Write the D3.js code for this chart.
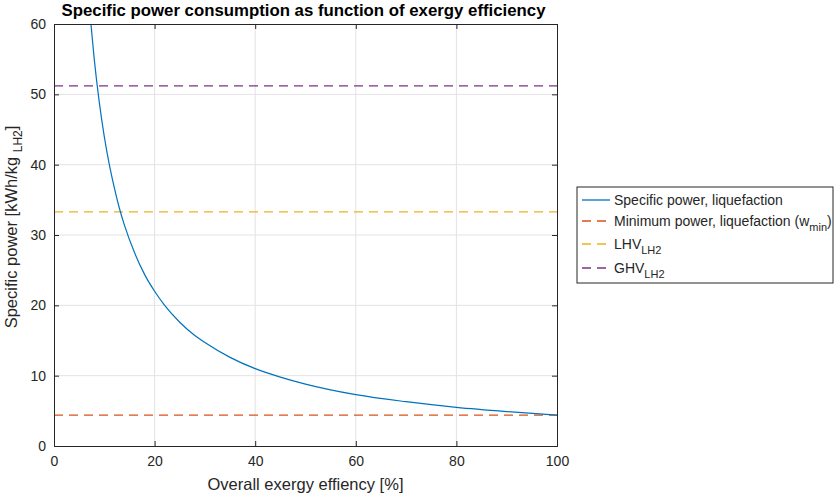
<!DOCTYPE html>
<html>
<head>
<meta charset="utf-8">
<script src="https://cdn.jsdelivr.net/npm/d3@7"></script>
<style>
  body { margin: 0; background: #fff; }
  text { font-family: "Liberation Sans", Arial, Helvetica, sans-serif; fill: #262626; }
</style>
</head>
<body>
<svg id="chart" width="834" height="498"></svg>
<script>
// exergy efficiency [%] and specific power [kWh/kg LH2]
const efficiency = [7.2, 8, 9, 10, 11, 12, 13, 14, 16, 18, 20, 22, 25, 28, 30, 35, 40, 45, 50, 60, 70, 80, 90, 100]
const specificPower = [61.1, 55.0, 48.9, 44.0, 40.0, 36.7, 33.8, 31.4, 27.5, 24.4, 22.0, 20.0, 17.6, 15.7, 14.7, 12.6, 11.0, 9.8, 8.8, 7.3, 6.3, 5.5, 4.9, 4.4]
const refNames = ['Minimum power, liquefaction', 'LHV', 'GHV']
const refValues = [4.4, 33.3, 51.2]
const refColors = ['#d95319', '#edb120', '#7e2f8e']
const xTicks = [0, 20, 40, 60, 80, 100]
const yTicks = [0, 10, 20, 30, 40, 50, 60]

const svg = d3.select('#chart')
const mLeft = 54
const mRight = 557
const mTop = 24
const mBottom = 446

const x = d3.scaleLinear().domain([0, 100]).range([mLeft, mRight])
const y = d3.scaleLinear().domain([0, 60]).range([mBottom, mTop])

// grid
svg.append('g')
  .selectAll('line')
  .data(xTicks.slice(1, -1))
  .enter()
  .append('line')
  .attr('x1', d => x(d)).attr('x2', d => x(d))
  .attr('y1', mTop).attr('y2', mBottom)
  .attr('stroke', '#e3e3e3')
svg.append('g')
  .selectAll('line')
  .data(yTicks.slice(1, -1))
  .enter()
  .append('line')
  .attr('x1', mLeft).attr('x2', mRight)
  .attr('y1', d => y(d)).attr('y2', d => y(d))
  .attr('stroke', '#e3e3e3')

const clip = svg.append('clipPath').attr('id', 'clip')
clip.append('rect').attr('x', mLeft).attr('y', mTop).attr('width', mRight - mLeft).attr('height', mBottom - mTop)
const plot = svg.append('g').attr('clip-path', 'url(#clip)')

// reference lines
plot.selectAll('line.ref')
  .data(refValues)
  .enter()
  .append('line')
  .attr('class', 'ref')
  .attr('x1', x(0)).attr('x2', x(100))
  .attr('y1', d => y(d)).attr('y2', d => y(d))
  .attr('stroke', (d, i) => refColors[i])
  .attr('stroke-width', 1.3)
  .attr('stroke-dasharray', '9,6')

// curve
const line = d3.line()
  .x((d, i) => x(efficiency[i]))
  .y(d => y(d))
  .curve(d3.curveMonotoneX)
plot.append('path')
  .attr('d', line(specificPower))
  .attr('fill', 'none')
  .attr('stroke', '#0072bd')
  .attr('stroke-width', 1.2)

// axes (MATLAB style: inward ticks, box)
svg.append('g').attr('transform', `translate(0,${mBottom})`)
  .call(d3.axisBottom(x).tickValues(xTicks).tickSize(-5).tickPadding(10))
svg.append('g').attr('transform', `translate(${mLeft},0)`)
  .call(d3.axisLeft(y).tickValues(yTicks).tickSize(-5).tickPadding(8))
svg.append('g').attr('transform', `translate(0,${mTop})`)
  .call(d3.axisTop(x).tickValues(xTicks).tickSize(-5).tickFormat(''))
svg.append('g').attr('transform', `translate(${mRight},0)`)
  .call(d3.axisRight(y).tickValues(yTicks).tickSize(-5).tickFormat(''))
svg.selectAll('.domain').attr('stroke', '#262626').attr('stroke-width', 1)
svg.selectAll('.tick line').attr('stroke', '#262626')
svg.selectAll('.tick text').style('font-size', '14px').attr('fill', '#262626')

// title and labels
svg.append('text')
  .attr('x', (mLeft + mRight) / 2 - 2).attr('y', 16)
  .attr('text-anchor', 'middle')
  .style('font-size', '16.8px').style('font-weight', 'bold')
  .style('fill', '#000')
  .text('Specific power consumption as function of exergy efficiency')

svg.append('text')
  .attr('x', (mLeft + mRight) / 2).attr('y', 490)
  .attr('text-anchor', 'middle')
  .style('font-size', '16.5px')
  .text('Overall exergy effiency [%]')

const yl = svg.append('text')
  .attr('transform', `translate(17,227) rotate(-90)`)
  .attr('text-anchor', 'middle')
  .style('font-size', '16.5px')
yl.append('tspan').text('Specific power [kWh/kg ')
yl.append('tspan').attr('dy', 5).style('font-size', '12px').text('LH2')
yl.append('tspan').attr('dy', -5).text(']')

// legend
const lg = svg.append('g').attr('transform', 'translate(577,187)')
lg.append('rect')
  .attr('width', 256).attr('height', 96)
  .attr('fill', '#fff').attr('stroke', '#262626').attr('stroke-width', 1)
const legendItems = [
  { color: '#0072bd', dash: null, main: 'Specific power, liquefaction', sub: null, tail: null, y: 13 },
  { color: refColors[0], dash: '9,6', main: refNames[0] + ' (w', sub: 'min', tail: ')', y: 34 },
  { color: refColors[1], dash: '9,6', main: refNames[1], sub: 'LH2', tail: null, y: 57 },
  { color: refColors[2], dash: '9,6', main: refNames[2], sub: 'LH2', tail: null, y: 81 }
]
legendItems.forEach(it => {
  lg.append('line')
    .attr('x1', 5).attr('x2', 33)
    .attr('y1', it.y).attr('y2', it.y)
    .attr('stroke', it.color).attr('stroke-width', 1.3)
    .attr('stroke-dasharray', it.dash)
  const t = lg.append('text').attr('x', 37).attr('y', it.y + 5).style('font-size', '14px')
  t.append('tspan').text(it.main)
  if (it.sub) t.append('tspan').attr('dy', 5).style('font-size', '11px').text(it.sub)
  if (it.tail) t.append('tspan').attr('dy', -5).text(it.tail)
})
</script>
</body>
</html>
